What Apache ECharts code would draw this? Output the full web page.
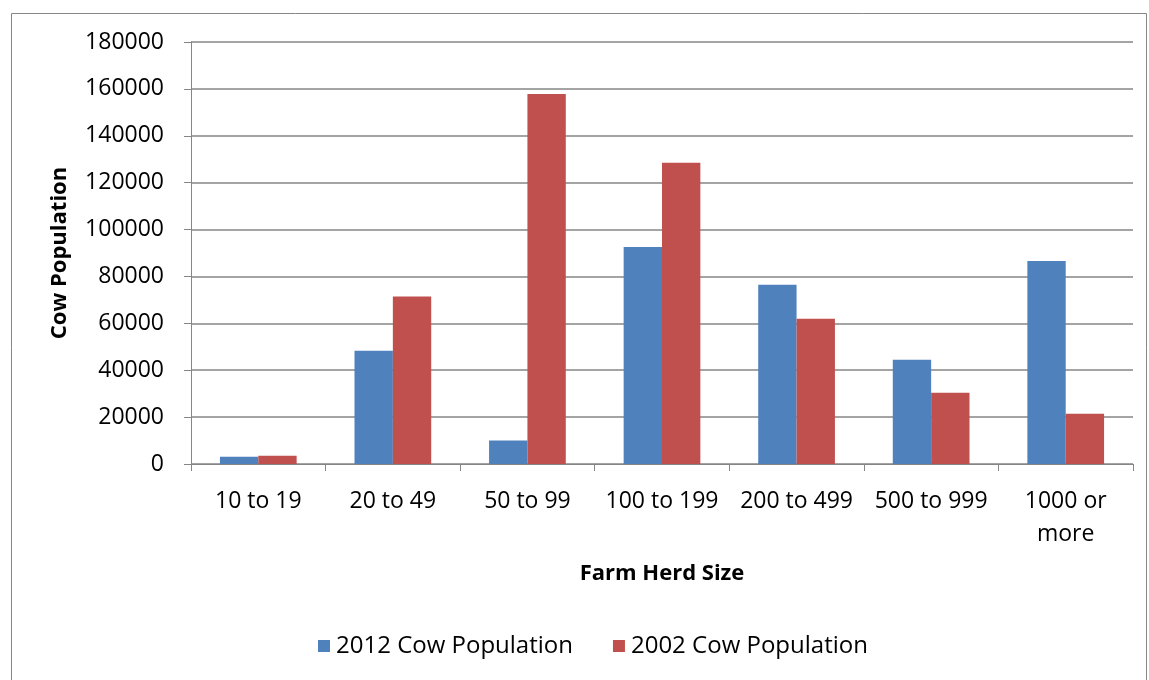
<!DOCTYPE html>
<html>
<head>
<meta charset="utf-8">
<script src="https://cdn.jsdelivr.net/npm/echarts@6/dist/echarts.min.js"></script>
<style>
  html, body { margin: 0; padding: 0; background: #fff; }
  #chart { width: 1149px; height: 680px; }
</style>
</head>
<body>
<div id="chart"></div>
<script>
// Herd-size classes and cow counts for the two census years
const categories = ['10 to 19', '20 to 49', '50 to 99', '100 to 199', '200 to 499', '500 to 999', '1000 or\nmore'];
const cows2012 = [3100, 48300, 10000, 92600, 76500, 44500, 86600];
const cows2002 = [3500, 71400, 157800, 128500, 62000, 30400, 21400];
const seriesNames = ['2012 Cow Population', '2002 Cow Population'];

const FONT = '"Open Sans", "Noto Sans", sans-serif';
const GRID_COLOR = '#868686';

const chart = echarts.init(document.getElementById('chart'), null, { renderer: 'canvas' });

chart.setOption({
  animation: false,
  backgroundColor: '#ffffff',
  textStyle: { fontFamily: FONT, color: '#000' },
  graphic: [{
    type: 'rect',
    shape: { x: 11.5, y: 13.5, width: 1135, height: 700 },
    style: { fill: 'none', stroke: '#868686', lineWidth: 1 },
    silent: true
  }],
  grid: { left: 191, right: 16, top: 42, bottom: 216, containLabel: false },
  legend: {
    data: seriesNames,
    left: 313,
    top: 629,
    icon: 'rect',
    itemWidth: 12,
    itemHeight: 12,
    itemGap: 40,
    textStyle: { fontFamily: FONT, fontSize: 24, color: '#000', padding: [0, 0, 0, 1] }
  },
  xAxis: {
    type: 'category',
    data: categories,
    name: 'Farm Herd Size',
    nameLocation: 'middle',
    nameGap: 110,
    nameTextStyle: { fontFamily: FONT, fontSize: 22, fontWeight: 'bold', color: '#000', verticalAlign: 'middle' },
    axisLine: { show: true, lineStyle: { color: GRID_COLOR, width: 1 } },
    axisTick: { show: true, length: 7, interval: 0, lineStyle: { color: GRID_COLOR } },
    axisLabel: { fontFamily: FONT, fontSize: 23, color: '#000', margin: 21, interval: 0, lineHeight: 33 },
    splitLine: { show: false }
  },
  yAxis: {
    type: 'value',
    min: 0,
    max: 180000,
    interval: 20000,
    name: 'Cow Population',
    nameLocation: 'middle',
    nameGap: 131,
    nameRotate: 90,
    nameTextStyle: { fontFamily: FONT, fontSize: 22, fontWeight: 'bold', color: '#000', verticalAlign: 'middle' },
    axisLine: { show: true, lineStyle: { color: GRID_COLOR, width: 1 } },
    axisTick: { show: true, length: 7, lineStyle: { color: GRID_COLOR } },
    axisLabel: { fontFamily: FONT, fontSize: 23, color: '#000', margin: 27, formatter: v => String(v) },
    splitLine: { show: true, lineStyle: { color: GRID_COLOR, width: 1.5 } }
  },
  series: [
    {
      name: seriesNames[0],
      type: 'bar',
      data: cows2012,
      barGap: '0%',
      barCategoryGap: '43%',
      itemStyle: { color: '#4F81BD' }
    },
    {
      name: seriesNames[1],
      type: 'bar',
      data: cows2002,
      barGap: '0%',
      barCategoryGap: '43%',
      itemStyle: { color: '#C0504D' }
    }
  ]
});
</script>
</body>
</html>
